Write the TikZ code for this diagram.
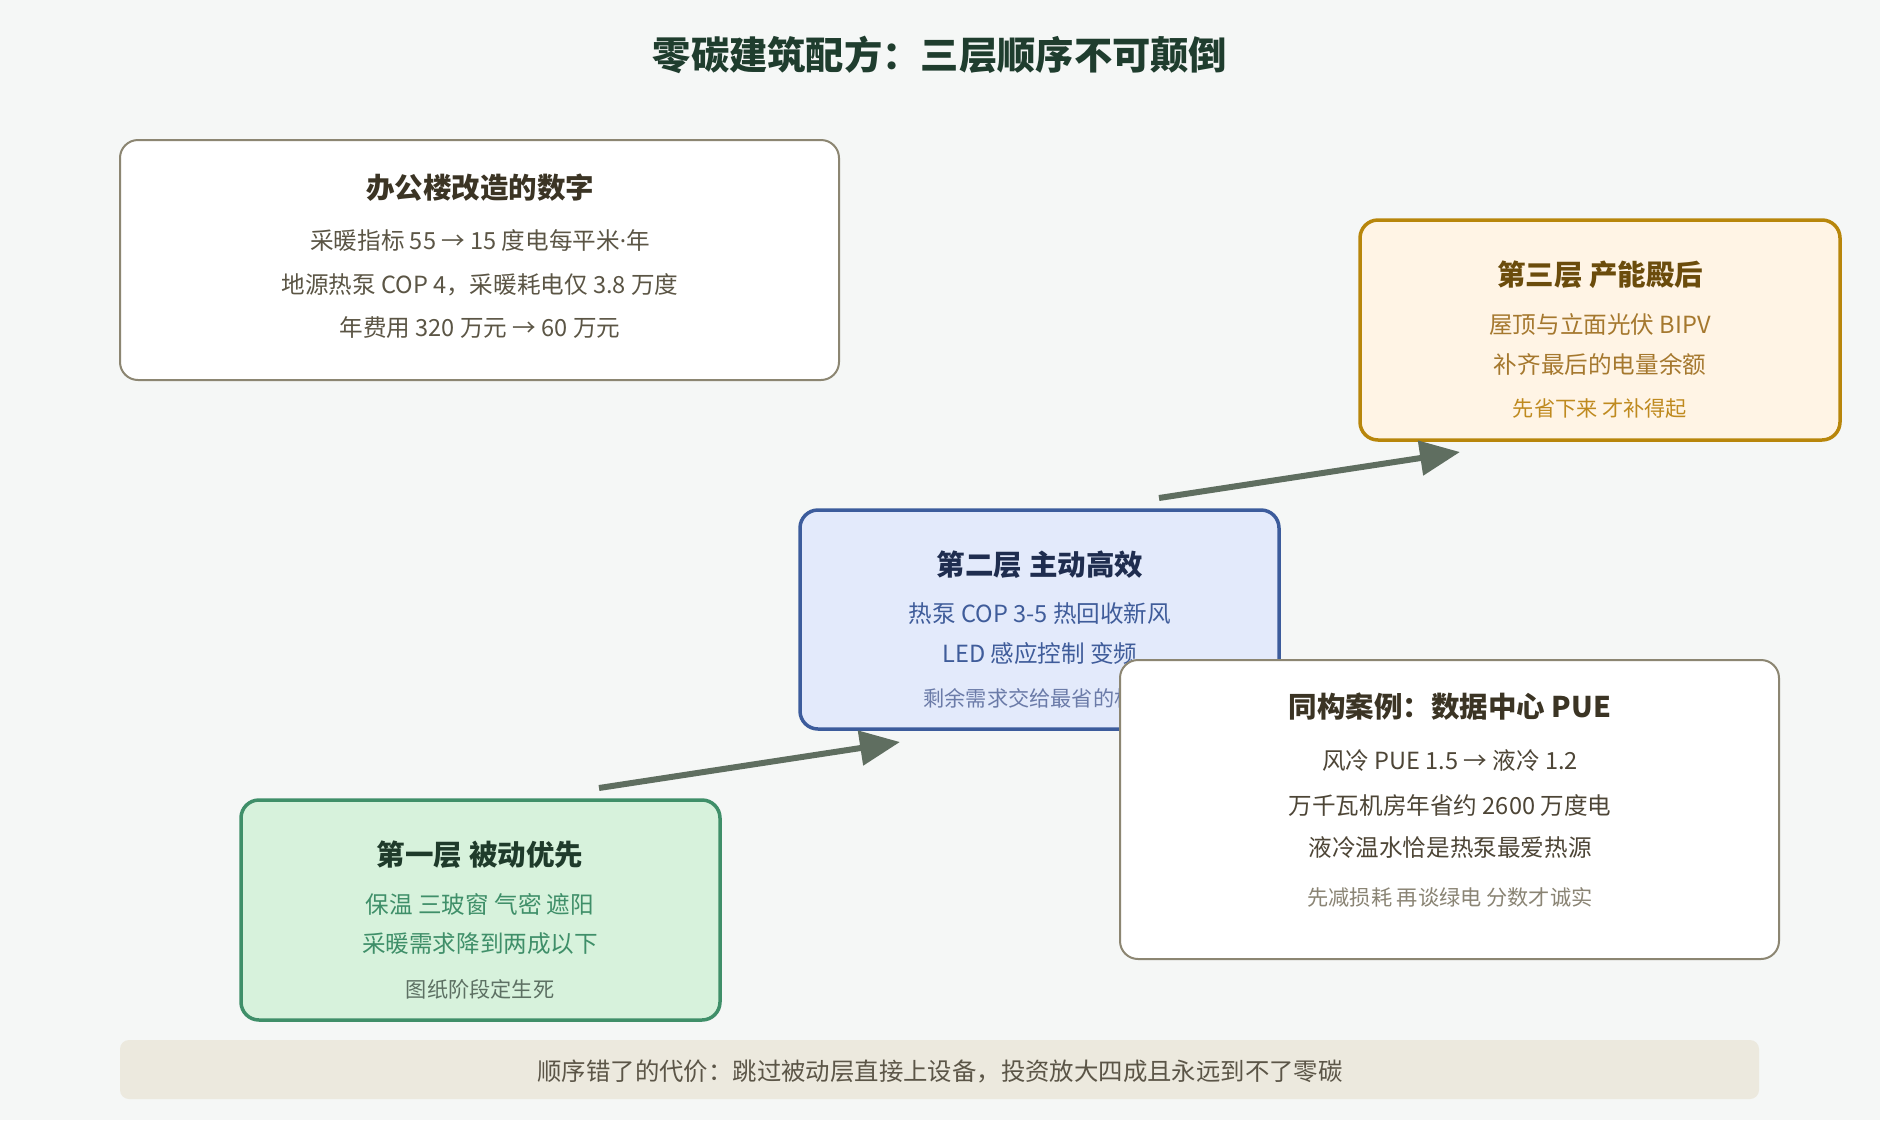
\documentclass[tikz,border=0pt]{standalone}
\usepackage{fontspec}
\setmainfont{Noto Sans CJK SC}
\newfontfamily\latinfont{Noto Sans}
\usetikzlibrary{arrows.meta}
\definecolor{bg}{HTML}{F5F7F6}
\definecolor{ttl}{HTML}{1F3D2E}
\definecolor{nbd}{HTML}{8C8672}
\definecolor{ntl}{HTML}{3B3424}
\definecolor{nln}{HTML}{5B5545}
\definecolor{tfill}{HTML}{FFF4E5}
\definecolor{tbd}{HTML}{B8860B}
\definecolor{ttt}{HTML}{6B4C0C}
\definecolor{tln}{HTML}{A5782E}
\definecolor{tsm}{HTML}{BF8A1F}
\definecolor{sfill}{HTML}{E3EAFB}
\definecolor{sbd}{HTML}{3C5C9C}
\definecolor{stt}{HTML}{1F2D4F}
\definecolor{sln}{HTML}{3F5C9A}
\definecolor{ssm}{HTML}{6B7BA8}
\definecolor{dln}{HTML}{4D4536}
\definecolor{dsm}{HTML}{8A8474}
\definecolor{ffill}{HTML}{D7F2DC}
\definecolor{fbd}{HTML}{3F8F69}
\definecolor{ftt}{HTML}{1F3B2B}
\definecolor{fln}{HTML}{3F8F69}
\definecolor{fsm}{HTML}{5D7063}
\definecolor{barfill}{HTML}{ECE9DE}
\definecolor{bartxt}{HTML}{5B5547}
\definecolor{arr}{HTML}{5F6E60}
\tikzset{
  panel/.style={rounded corners=18pt},
  boxtitle/.style={font=\fontsize{28.5}{33}\selectfont\bfseries, inner sep=0pt, anchor=center},
  boxline/.style={font=\fontsize{23.6}{28}\selectfont, inner sep=0pt, anchor=center},
  boxsmall/.style={font=\fontsize{21.2}{25}\selectfont, inner sep=0pt, anchor=center},
  flow/.style={draw=arr, line width=6pt, -{Triangle[length=40pt,width=34pt]}},
}
\begin{document}
\begin{tikzpicture}[x=1pt,y=-1pt]
\fill[bg] (0,0) rectangle (1880,1120);
\useasboundingbox (0,0) rectangle (1880,1120);

\node[font=\fontsize{38.3}{45}\selectfont\bfseries, text=ttl, inner sep=0pt] (title) at (940,55) {零碳建筑配方：三层顺序不可颠倒};

% office box
\draw[panel, draw=nbd, fill=white, line width=2pt] (120,140) rectangle (839,380);
\node[boxtitle, text=ntl] (o0) at (480,188) {办公楼改造的数字};
\node[boxline, text=nln] (o1) at (480,240) {采暖指标 55 → 15 度电每平米{\latinfont ·}年};
\node[boxline, text=nln] (o2) at (480,285) {地源热泵 COP 4，采暖耗电仅 3.8 万度};
\node[boxline, text=nln] (o3) at (480,328) {年费用 320 万元 → 60 万元};

% tier 3
\draw[panel, draw=tbd, fill=tfill, line width=3.5pt] (1360,220) rectangle (1840,440);
\node[boxtitle, text=ttt] (t0) at (1600,275) {第三层 产能殿后};
\node[boxline, text=tln] (t1) at (1600,324) {屋顶与立面光伏 BIPV};
\node[boxline, text=tln] (t2) at (1600,364) {补齐最后的电量余额};
\node[boxsmall, text=tsm] (t3) at (1600,409) {先省下来 才补得起};

% tier 2
\draw[panel, draw=sbd, fill=sfill, line width=3.5pt] (800,510) rectangle (1279,729);
\node[boxtitle, text=stt] (s0) at (1040,565) {第二层 主动高效};
\node[boxline, text=sln] (s1) at (1040,614) {热泵 COP 3-5 热回收新风};
\node[boxline, text=sln] (s2) at (1040,653) {LED 感应控制 变频};
\node[boxsmall, text=ssm] (s3) at (1040,698) {剩余需求交给最省的机器};

% data center
\draw[panel, draw=nbd, fill=white, line width=2pt] (1120,660) rectangle (1779,959);
\node[boxtitle, text=ntl] (d0) at (1450,707) {同构案例：数据中心 PUE};
\node[boxline, text=dln] (d1) at (1450,760) {风冷 PUE 1.5 → 液冷 1.2};
\node[boxline, text=dln] (d2) at (1450,805) {万千瓦机房年省约 2600 万度电};
\node[boxline, text=dln] (d3) at (1450,848) {液冷温水恰是热泵最爱热源};
\node[boxsmall, text=dsm] (d4) at (1450,897) {先减损耗 再谈绿电 分数才诚实};

% tier 1
\draw[panel, draw=fbd, fill=ffill, line width=3.5pt] (241,800) rectangle (720,1020);
\node[boxtitle, text=ftt] (f0) at (480,855) {第一层 被动优先};
\node[boxline, text=fln] (f1) at (480,904) {保温 三玻窗 气密 遮阳};
\node[boxline, text=fln] (f2) at (480,944) {采暖需求降到两成以下};
\node[boxsmall, text=fsm] (f3) at (480,989) {图纸阶段定生死};

% bottom bar
\fill[barfill, rounded corners=9pt] (120,1040) rectangle (1759,1099);
\node[font=\fontsize{24.4}{29}\selectfont, inner sep=0pt, text=bartxt] (bar) at (940,1071) {顺序错了的代价：跳过被动层直接上设备，投资放大四成且永远到不了零碳};

% arrows
\coordinate (a1s) at (599,788);
\coordinate (a1e) at (900,742);
\coordinate (a2s) at (1159,498);
\coordinate (a2e) at (1460,452);
\draw[flow] (a1s) -- (a1e);
\draw[flow] (a2s) -- (a2e);
\end{tikzpicture}
\end{document}
